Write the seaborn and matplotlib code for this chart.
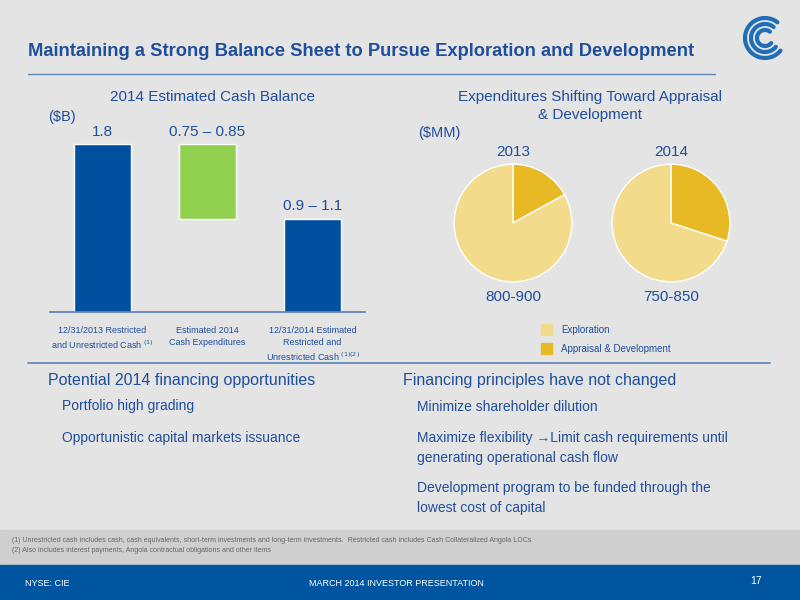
import numpy as np
import matplotlib.pyplot as plt
import seaborn as sns
from matplotlib.patches import Rectangle

# data
bar_labels = ["12/31/2013 Restricted\nand Unrestricted Cash $^{(1)}$",
              "Estimated 2014\nCash Expenditures",
              "12/31/2014 Estimated\nRestricted and\nUnrestricted Cash $^{(1)(2)}$"]
bar_tops = [1.8, 1.8, 1.0]
bar_bottoms = [0.0, 1.0, 0.0]
bar_texts = ["1.8", "0.75 – 0.85", "0.9 – 1.1"]
bar_colors = ["#0050a0", "#92d050", "#0050a0"]

pie_years = ["2013", "2014"]
pie_explor = [83, 70]
pie_apprais = [17, 30]
pie_totals = ["800-900", "750-850"]
pie_colors = ["#f2dc8c", "#e6b925"]

BLUE = "#1f4e9c"
sns.set_theme(style="white")
plt.rcParams['font.family'] = ['Liberation Sans', 'DejaVu Sans']

fig = plt.figure(figsize=(8, 6), dpi=100)
fig.patch.set_facecolor("#e4e4e4")
bg = fig.add_axes([0, 0, 1, 1])
bg.set_xlim(0, 800)
bg.set_ylim(600, 0)
bg.axis("off")
bg.add_patch(Rectangle((0, 530), 800, 35, color="#cfcfcf", zorder=0))
bg.add_patch(Rectangle((0, 565), 800, 35, color="#0055a0", zorder=0))
bg.plot([28, 715], [74, 74], color="#5a85b5", lw=1)
bg.plot([28, 770], [363, 363], color="#5a85b5", lw=1.2)
bg.text(28, 52, "Maintaining a Strong Balance Sheet to Pursue Exploration and Development",
        color=BLUE, fontsize=13.2, fontweight="bold", va="center")
# logo-ish arcs
for r in [8, 14, 20]:
    t = np.linspace(0.9, 5.6, 50)
    bg.plot(765 + r * np.cos(t), 38 - r * np.sin(t), color="#1f6fb8", lw=3)

bg.text(212, 97, "2014 Estimated Cash Balance", color=BLUE, fontsize=11, ha="center", va="center")
bg.text(48, 117, "($B)", color=BLUE, fontsize=10.5, va="center")
bg.text(590, 106, "Expenditures Shifting Toward Appraisal\n& Development", color=BLUE, fontsize=11,
        ha="center", va="center", linespacing=1.4)
bg.text(418, 133, "($MM)", color=BLUE, fontsize=10.5, va="center")

bg.text(48, 380, "Potential 2014 financing opportunities", color=BLUE, fontsize=11.5, va="center")
bg.text(62, 406, "Portfolio high grading", color=BLUE, fontsize=10, va="center")
bg.text(62, 438, "Opportunistic capital markets issuance", color=BLUE, fontsize=10, va="center")
bg.text(403, 380, "Financing principles have not changed", color=BLUE, fontsize=11.5, va="center")
bg.text(417, 407, "Minimize shareholder dilution", color=BLUE, fontsize=10, va="center")
bg.text(417, 448, "Maximize flexibility \u2192Limit cash requirements until\ngenerating operational cash flow",
        color=BLUE, fontsize=10, va="center", linespacing=1.5)
bg.text(417, 498, "Development program to be funded through the\nlowest cost of capital",
        color=BLUE, fontsize=10, va="center", linespacing=1.5)

bg.text(12, 540, "(1) Unrestricted cash includes cash, cash equivalents, short-term investments and long-term investments.  "
        "Restricted cash includes Cash Collateralized Angola LOCs", fontsize=5, color="#666666", va="center")
bg.text(12, 551, "(2) Also includes interest payments, Angola contractual obligations and other items",
        fontsize=5, color="#666666", va="center")
bg.text(25, 583, "NYSE: CIE", fontsize=6.5, color="white", va="center")
bg.text(396, 583, "MARCH 2014 INVESTOR PRESENTATION", fontsize=6.5, color="white", va="center", ha="center")
bg.text(762, 581, "17", fontsize=7.5, color="white", va="center", ha="right")

# waterfall
ax = fig.add_axes([50 / 800, 1 - 312 / 600, 315 / 800, 205 / 600])
ax.set_facecolor("none")
x = np.arange(len(bar_tops))
heights = np.array(bar_tops) - np.array(bar_bottoms)
ax.bar(x, heights, bottom=bar_bottoms, width=0.55, color=bar_colors)
for xi, top, txt in zip(x, bar_tops, bar_texts):
    ax.text(xi, top + 0.06, txt, ha="center", va="bottom", color=BLUE, fontsize=11)
ax.set_xlim(-0.5, 2.5)
ax.set_ylim(0, 2.2)
ax.set_yticks([])
ax.set_xticks(x)
ax.set_xticklabels(bar_labels, fontsize=6.5, color=BLUE, linespacing=1.4, va="top")
ax.tick_params(axis="x", length=0, pad=10)
sns.despine(ax=ax, left=True)
ax.spines["bottom"].set_color("#5a85b5")

# pies
for i, cx in enumerate([513, 671]):
    pa = fig.add_axes([(cx - 60) / 800, 1 - (223 + 60) / 600, 120 / 800, 120 / 600])
    pa.pie([pie_apprais[i], pie_explor[i]], colors=[pie_colors[1], pie_colors[0]],
           startangle=90, counterclock=False, radius=1.0,
           wedgeprops=dict(edgecolor="white", linewidth=1))
    pa.set_xlim(-1.02, 1.02)
    pa.set_ylim(-1.02, 1.02)
    pa.set_aspect("equal")
    bg.text(cx, 152, pie_years[i], color=BLUE, fontsize=11, ha="center", va="center")
    bg.text(cx, 297, pie_totals[i], color=BLUE, fontsize=11, ha="center", va="center")

bg.add_patch(Rectangle((541, 324), 11, 11, color=pie_colors[0]))
bg.text(561, 330, "Exploration", fontsize=7, color=BLUE, va="center")
bg.add_patch(Rectangle((541, 343), 11, 11, color=pie_colors[1]))
bg.text(561, 349, "Appraisal & Development", fontsize=7, color=BLUE, va="center")

fig.savefig("out.png", dpi=100, facecolor=fig.get_facecolor())
